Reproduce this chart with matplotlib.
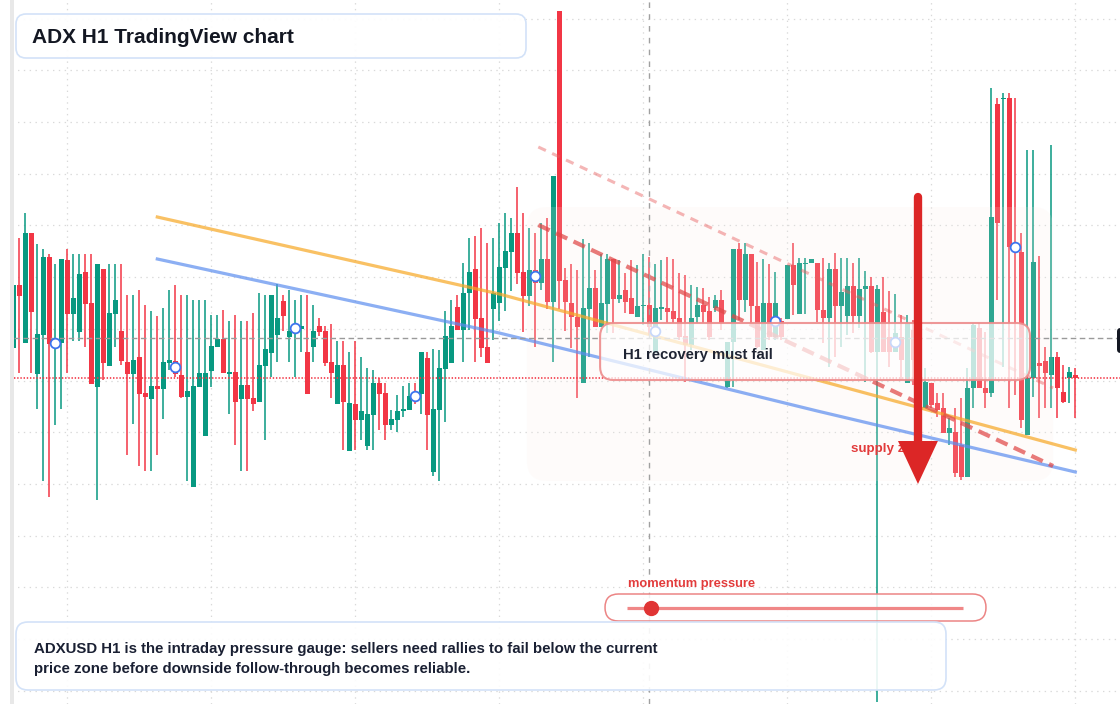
import matplotlib
matplotlib.use('Agg')
import matplotlib.pyplot as plt
from matplotlib.patches import FancyBboxPatch
import numpy as np

plt.rcParams['font.family'] = ['Liberation Sans', 'DejaVu Sans']
plt.rcParams['lines.scale_dashes'] = False

# ADXUSD H1 candles, oldest -> newest
opens = [3.56, 4.19, 3.61, 4.71, 3.30, 3.69, 4.47, 3.58, 3.61, 4.44,
         3.90, 3.72, 4.32, 4.01, 3.17, 4.35, 3.38, 3.90, 3.73, 3.42,
         3.30, 3.47, 3.11, 3.05, 3.18, 3.15, 3.41, 3.43, 3.29, 3.07,
         2.17, 3.17, 2.68, 3.33, 3.57, 3.65, 3.30, 3.32, 3.05, 3.19,
         3.06, 3.02, 3.38, 3.51, 3.69, 4.03, 3.67, 3.72, 3.75, 3.52,
         3.57, 3.78, 3.73, 3.42, 3.00, 3.39, 2.53, 3.00, 2.84, 2.58,
         2.89, 3.21, 3.11, 2.79, 2.84, 2.93, 2.94, 3.10, 3.10, 3.46,
         2.32, 2.94, 3.35, 3.41, 3.97, 3.74, 4.11, 4.35, 3.86, 3.57,
         3.95, 4.01, 4.36, 4.52, 4.71, 4.32, 4.08, 4.34, 4.21, 4.45,
         4.02, 6.93, 4.24, 4.01, 3.87, 3.21, 3.95, 4.16, 3.77, 4.00,
         4.45, 4.05, 4.14, 4.06, 3.87, 3.98, 3.99, 3.51, 3.95, 3.96,
         3.93, 3.86, 3.68, 3.59, 3.87, 3.99, 3.93, 3.96, 4.04, 3.17,
         3.62, 4.55, 4.04, 4.50, 3.98, 3.54, 4.01, 3.67, 3.83, 3.85,
         4.39, 3.90, 4.40, 4.41, 4.41, 3.94, 3.86, 4.35, 3.98, 3.88,
         4.18, 3.88, 4.15, 4.18, 3.52, 3.92, 3.67, 3.52, 3.67, 3.21,
         3.74, 3.19, 2.96, 3.21, 3.01, 2.96, 2.71, 2.72, 2.59, 2.27,
         3.16, 3.76, 3.16, 3.11, 6.00, 6.05, 6.06, 4.59, 4.52, 2.69,
         3.26, 3.41, 3.43, 3.29, 3.47, 3.12, 3.26, 3.29]
highs = [4.19, 4.66, 4.91, 4.71, 4.60, 4.55, 4.50, 4.40, 4.45, 4.55,
         4.50, 4.50, 4.50, 4.50, 4.40, 4.35, 4.40, 4.40, 4.40, 4.09,
         4.09, 4.14, 3.99, 3.93, 3.88, 3.96, 4.14, 4.19, 4.09, 4.09,
         4.04, 4.04, 4.04, 3.89, 3.89, 3.94, 3.83, 3.89, 3.83, 3.83,
         3.91, 4.11, 4.09, 4.09, 4.20, 4.09, 4.14, 4.04, 4.09, 4.09,
         3.99, 3.86, 3.78, 3.80, 3.63, 3.63, 3.52, 3.63, 3.47, 3.36,
         3.34, 3.26, 3.21, 2.94, 3.09, 3.18, 3.21, 3.21, 3.52, 3.52,
         3.55, 3.54, 3.93, 4.04, 4.09, 4.41, 4.66, 4.68, 4.76, 4.61,
         4.66, 4.81, 4.91, 4.86, 5.17, 4.91, 4.76, 4.71, 4.81, 4.86,
         5.28, 6.93, 4.36, 4.40, 4.34, 4.65, 4.61, 4.34, 4.50, 4.50,
         4.45, 4.44, 4.31, 4.44, 4.39, 4.50, 4.47, 4.40, 4.44, 4.47,
         4.45, 4.31, 4.29, 4.19, 4.17, 4.16, 4.07, 4.09, 4.14, 3.62,
         4.55, 4.61, 4.61, 4.50, 4.42, 4.45, 4.40, 4.32, 3.86, 4.39,
         4.61, 4.46, 4.46, 4.45, 4.41, 4.46, 4.41, 4.51, 4.46, 4.46,
         4.41, 4.46, 4.33, 4.27, 4.19, 4.27, 4.13, 4.10, 3.89, 3.89,
         3.84, 3.74, 3.36, 3.21, 3.11, 3.11, 2.86, 2.96, 3.06, 3.36,
         3.81, 3.81, 3.72, 6.16, 6.06, 6.11, 6.11, 6.06, 4.71, 5.54,
         5.54, 4.48, 3.57, 5.59, 3.52, 3.39, 3.37, 3.36]
lows = [3.56, 3.31, 3.61, 3.31, 2.95, 2.23, 2.07, 2.79, 2.95, 3.31,
        3.63, 3.63, 3.57, 3.20, 2.04, 3.24, 3.38, 3.57, 3.39, 2.49,
        2.80, 2.38, 2.33, 2.33, 2.49, 2.85, 3.34, 3.27, 3.06, 2.23,
        2.17, 3.17, 2.68, 3.17, 3.57, 3.31, 2.90, 2.59, 2.33, 2.33,
        2.93, 3.02, 2.64, 3.27, 3.42, 3.73, 3.42, 3.27, 3.52, 3.10,
        3.42, 3.68, 3.38, 3.06, 3.00, 2.54, 2.53, 2.54, 2.64, 2.54,
        2.54, 2.74, 2.64, 2.74, 2.72, 2.87, 2.94, 3.00, 2.90, 2.54,
        2.28, 2.23, 2.82, 3.41, 3.74, 3.42, 3.74, 3.42, 3.47, 3.41,
        3.64, 3.83, 3.93, 4.13, 4.20, 3.72, 3.98, 3.57, 4.14, 3.95,
        3.42, 3.95, 3.73, 3.56, 3.06, 3.21, 3.47, 3.77, 3.77, 3.71,
        3.71, 4.01, 3.91, 3.90, 3.87, 3.79, 3.69, 3.51, 3.84, 3.81,
        3.81, 3.64, 3.22, 3.54, 3.81, 3.81, 3.64, 3.92, 3.74, 3.16,
        3.17, 3.84, 3.92, 3.81, 3.56, 3.54, 3.64, 3.64, 3.64, 3.85,
        3.89, 3.90, 3.90, 4.41, 3.82, 3.61, 3.37, 3.47, 3.57, 3.69,
        3.71, 3.76, 3.22, 3.51, 0.02, 3.52, 3.37, 3.52, 3.24, 3.21,
        3.19, 3.14, 2.96, 2.96, 2.87, 2.71, 2.59, 2.27, 2.24, 2.27,
        2.96, 3.16, 2.96, 3.07, 4.04, 3.37, 2.96, 3.09, 2.76, 2.69,
        3.07, 2.86, 2.96, 2.96, 2.86, 3.01, 3.01, 2.86]
closes = [4.19, 4.08, 4.71, 3.92, 3.70, 4.47, 3.60, 3.62, 4.45, 3.90,
          4.06, 4.30, 4.00, 3.20, 4.40, 3.41, 3.91, 4.04, 3.43, 3.30,
          3.44, 3.10, 3.07, 3.18, 3.15, 3.42, 3.44, 3.30, 3.07, 3.13,
          3.18, 3.31, 3.31, 3.58, 3.65, 3.31, 3.32, 3.02, 3.19, 3.05,
          3.00, 3.39, 3.55, 4.09, 3.86, 3.88, 3.73, 3.78, 3.78, 3.10,
          3.73, 3.72, 3.41, 3.31, 3.39, 3.02, 3.01, 2.84, 2.93, 2.90,
          3.21, 3.10, 2.79, 2.85, 2.93, 2.95, 3.08, 3.06, 3.52, 2.89,
          2.95, 3.36, 3.68, 3.78, 3.74, 4.11, 4.32, 3.85, 3.56, 3.41,
          4.11, 4.37, 4.53, 4.71, 4.31, 4.08, 4.34, 4.21, 4.45, 4.02,
          5.28, 4.23, 4.02, 3.87, 3.77, 3.96, 4.16, 3.77, 4.01, 4.45,
          4.05, 4.09, 4.02, 3.90, 3.98, 3.99, 3.77, 3.96, 3.97, 3.92,
          3.85, 3.67, 3.59, 3.86, 3.99, 3.92, 3.67, 4.04, 3.81, 3.62,
          4.55, 4.04, 4.50, 3.98, 3.57, 4.01, 3.67, 4.01, 3.67, 4.39,
          4.19, 4.41, 4.41, 4.45, 3.94, 3.86, 4.35, 3.98, 4.12, 4.18,
          3.88, 4.15, 4.18, 3.52, 4.15, 3.52, 3.52, 3.71, 3.44, 3.81,
          3.44, 3.54, 3.22, 2.99, 2.94, 2.71, 2.76, 2.31, 2.27, 3.16,
          3.79, 3.16, 3.11, 4.87, 4.81, 6.06, 4.57, 4.55, 2.84, 3.26,
          4.42, 3.38, 3.31, 3.47, 3.16, 3.02, 3.32, 3.26]

# session markers (every 20 bars)
marker_idx = [7, 27, 47, 67, 87, 107, 127, 147, 167]
marker_price = [3.61, 3.37, 3.76, 3.08, 4.28, 3.73, 3.83, 3.62, 4.57]

# trend lines (bar index, price)
orange_x = [24, 81, 134, 177]
orange_y = [4.87, 4.10, 3.24, 2.54]
blue_x = [24, 81, 134, 177]
blue_y = [4.45, 3.71, 2.93, 2.32]
chan_x = [87.5, 173.3]
chan_upper = [5.57, 3.16]
chan_lower = [4.79, 2.38]

last_price = 3.66
red_level = 3.26
cursor_bar = 106
supply_zone = (85.6, 173.3, 2.23, 4.97)      # bar from/to, price low/high
recovery_box = (97.8, 169.45, 3.24, 3.81)
momentum = 0.07

GREEN = '#089981'
RED = '#f23645'
W, H = 1120, 704

fig = plt.figure(figsize=(W / 100, H / 100), dpi=100)
ax = fig.add_axes([0, 0, 1, 1])
n = len(opens)
x = np.arange(n)
xmin, xmax = -13.3 / 6, (W - 13.3) / 6
ax.set_xlim(xmin, xmax)
ax.set_ylim(0, 7.04)

# grid
ax.set_xticks(np.arange(9, n, 24))
ax.set_yticks(np.arange(6.854, 0, -0.517))
ax.grid(True, color='#d9d9d9', lw=0.9, linestyle=(0, (1, 3.2)))
ax.set_axisbelow(True)
ax.tick_params(length=0, labelbottom=False, labelleft=False)
for s in ax.spines.values():
    s.set_visible(False)

# candles
o = np.array(opens)
h = np.array(highs)
l = np.array(lows)
c = np.array(closes)
cols = np.where(c >= o, GREEN, RED)
ax.vlines(x, l, h, colors=cols, lw=1.1, zorder=2)
body_h = np.maximum(np.abs(c - o), 0.012)
ax.bar(x, body_h, bottom=np.minimum(o, c), width=0.84, color=cols, linewidth=0, zorder=2.1)

# supply zone shading
zx0, zx1, zy0, zy1 = supply_zone
ax.add_patch(FancyBboxPatch((zx0, zy0), zx1 - zx0, zy1 - zy0,
                            boxstyle='round,pad=0,rounding_size=3.3', mutation_aspect=0.06,
                            fc='#f9ece6', ec='none', alpha=0.16, zorder=2.5))

# trend lines
ax.plot(orange_x, orange_y, color='#f7a928', alpha=0.72, lw=2.3, zorder=3)
ax.plot(blue_x, blue_y, color='#5b8def', alpha=0.7, lw=2.3, zorder=3)
ax.plot(chan_x, chan_upper, color='#e85d5d', alpha=0.45, lw=2.2, dashes=(6, 5), zorder=3.2)
ax.plot(chan_x, chan_lower, color='#e04848', alpha=0.72, lw=3, dashes=(9, 5), zorder=3.2)

# price lines and cursor
ax.hlines(last_price, 0.1, xmax, color='#9a9a9a', lw=1, linestyles=[(0, (4, 2.5))], zorder=3.4)
ax.hlines(red_level, 0.1, xmax, color=RED, lw=1.2, linestyles=[(0, (1, 1.3))], zorder=3.4)
ax.axvline(cursor_bar, color='#a0a0a0', lw=1, linestyle=(0, (4, 4.5)), zorder=3.4)

ax.plot(marker_idx, marker_price, 'o', ms=7, mfc='white', mec='#3d74ee', mew=1.3, zorder=4)

# recovery annotation
bx0, bx1, by0, by1 = recovery_box
ax.add_patch(FancyBboxPatch((bx0, by0), bx1 - bx0, by1 - by0,
                            boxstyle='round,pad=0,rounding_size=2.2', mutation_aspect=0.06,
                            fc=(1, 1, 1, 0.72), ec=(0.93, 0.55, 0.55, 0.9), lw=1.5, zorder=5))
ax.text(101.57, 3.447, 'H1 recovery must fail', fontsize=10.7, weight='bold',
        color='#1f2433', va='baseline', zorder=6)

# supply arrow
ax.text(139.7, 2.52, 'supply zone', fontsize=9.6, weight='bold', color='#e23b3b',
        va='baseline', zorder=6.5)
ax.plot([150.78, 150.78], [5.07, 2.62], color='#dc2626', lw=6, solid_capstyle='round', zorder=7)
ax.fill([147.45, 154.1, 150.78], [2.63, 2.63, 2.20], color='#dc2626', lw=0, zorder=7)

# last price tag (clipped at right edge)
ax.add_patch(FancyBboxPatch((183.95, 3.51), 4, 0.25, boxstyle='round,pad=0,rounding_size=0.6',
                            mutation_aspect=0.06, fc='#131722', ec='none', zorder=9))


def px_box(x0, y0, x1, y1, r, **kw):
    p = FancyBboxPatch((x0 / W, 1 - y1 / H), (x1 - x0) / W, (y1 - y0) / H,
                       boxstyle='round,pad=0,rounding_size=%f' % (r / W),
                       mutation_aspect=W / H, transform=ax.transAxes, **kw)
    ax.add_patch(p)


def px_text(px, py, s, **kw):
    ax.text(px / W, 1 - py / H, s, transform=ax.transAxes, va='baseline', **kw)


# title
px_box(16, 14, 526, 58, 10, fc=(1, 1, 1, 0.95), ec='#d3e2f8', lw=1.2, zorder=8)
px_text(32, 43.3, 'ADX H1 TradingView chart', fontsize=15, weight='bold', color='#131722', zorder=9)

# momentum gauge
px_box(605, 594, 986, 621, 13.5, fc=(1, 1, 1, 0.85), ec='#ec8585', lw=1.1, zorder=8)
px_text(627.7, 586.7, 'momentum pressure', fontsize=9.3, weight='bold', color='#e23b3b', zorder=9)
track_x0, track_x1, track_y = 627 / W, 963 / W, 1 - 607.7 / H
ax.plot([track_x0, track_x1], [track_y, track_y], transform=ax.transAxes,
        color='#f08787', lw=2.3, solid_capstyle='butt', zorder=9)
ax.plot([track_x0 + momentum * (track_x1 - track_x0)], [track_y], 'o', transform=ax.transAxes,
        ms=10, color='#e03434', zorder=10)

# footnote
px_box(16, 622, 946, 690, 12, fc=(1, 1, 1, 0.9), ec='#d3e2f8', lw=1.2, zorder=8)
px_text(34, 653, 'ADXUSD H1 is the intraday pressure gauge: sellers need rallies to fail below the current',
        fontsize=10.8, weight='bold', color='#1a2033', zorder=9)
px_text(34, 673, 'price zone before downside follow-through becomes reliable.',
        fontsize=10.8, weight='bold', color='#1a2033', zorder=9)

# left edge strip
ax.axvspan(xmin, -0.55, color='white', lw=0, zorder=9.5)
ax.axvspan(-0.55, 0.117, color='#e8e8e8', lw=0, zorder=9.5)

fig.savefig('out.png', dpi=100)
